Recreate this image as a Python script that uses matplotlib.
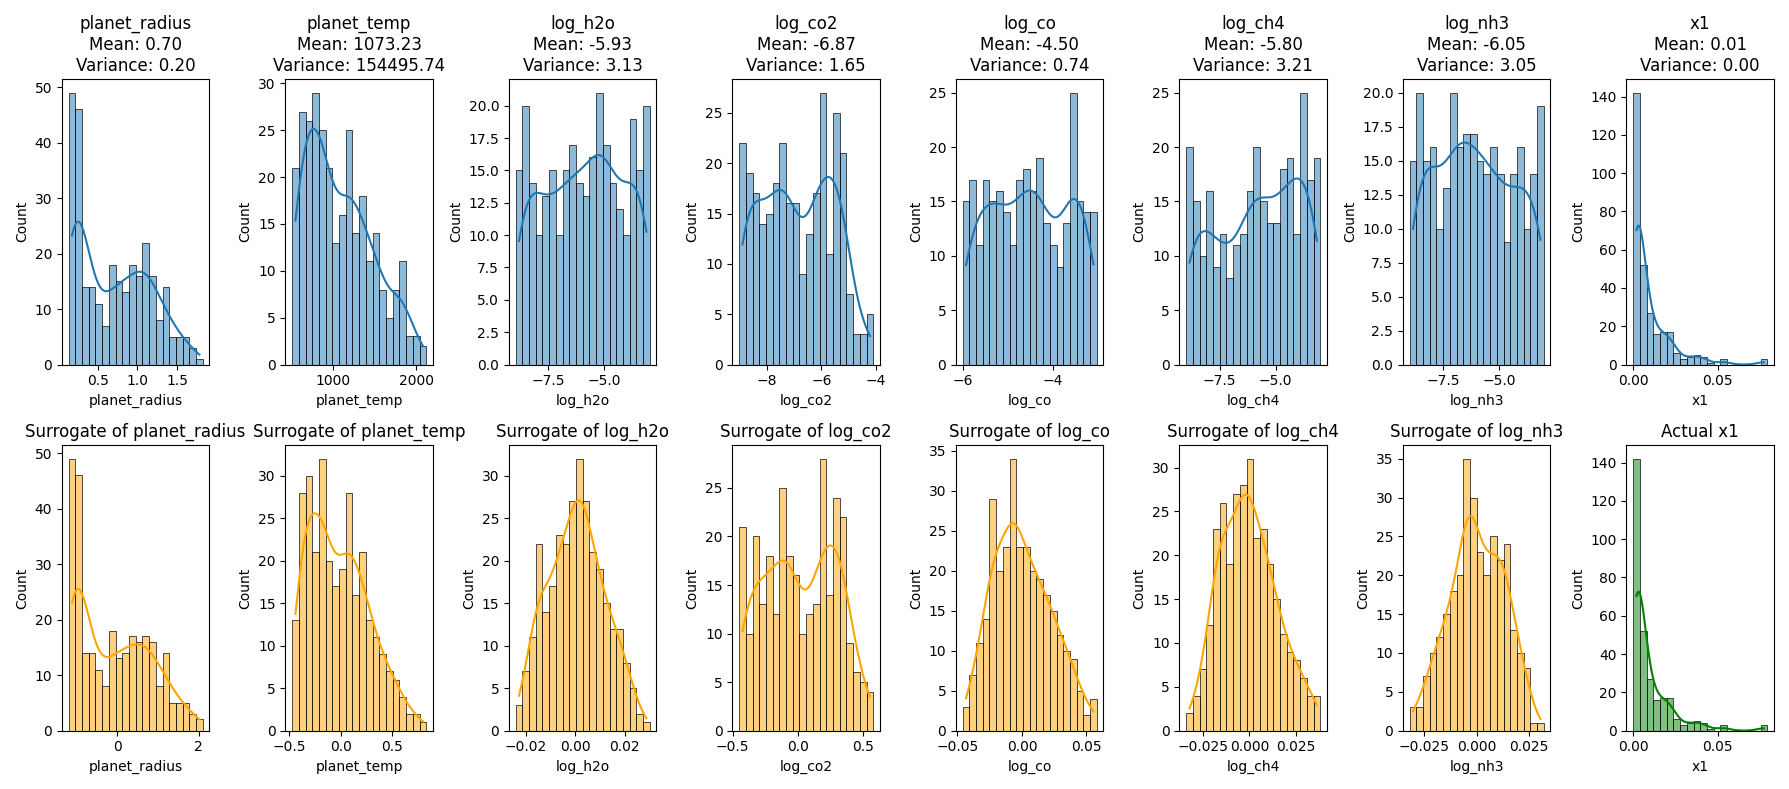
import matplotlib
matplotlib.use("Agg")
import matplotlib.pyplot as plt
import numpy as np
import pandas as pd
import seaborn as sns

# ---- data (20 bins per panel, 300 samples) ----
features = ["planet_radius", "planet_temp", "log_h2o", "log_co2",
            "log_co", "log_ch4", "log_nh3", "x1"]
means = [0.70, 1073.23, -5.93, -6.87, -4.50, -5.80, -6.05, 0.01]
variances = [0.20, 154495.74, 3.13, 1.65, 0.74, 3.21, 3.05, 0.00]

# bin ranges (min, max) of the original data
top_ranges = [(0.133, 1.825), (514, 2118), (-8.97, -2.97), (-9.02, -4.1),
              (-6.0, -3.03), (-9.0, -3.0), (-9.0, -3.0), (0.0, 0.0794)]

top_counts = [
    [49, 46, 14, 14, 11, 7, 18, 15, 13, 18, 16, 22, 16, 8, 14, 5, 5, 5, 3, 1],
    [21, 27, 26, 29, 25, 21, 13, 16, 25, 14, 18, 11, 14, 8, 5, 8, 11, 3, 3, 2],
    [15, 20, 14, 10, 13, 15, 10, 15, 17, 14, 13, 16, 21, 17, 14, 12, 10, 19, 15, 20],
    [22, 19, 17, 14, 15, 18, 22, 16, 16, 9, 13, 17, 27, 11, 25, 21, 7, 3, 3, 5],
    [15, 17, 11, 17, 15, 16, 14, 11, 17, 18, 16, 19, 13, 11, 9, 13, 25, 15, 14, 14],
    [20, 15, 10, 16, 9, 12, 8, 11, 12, 16, 20, 15, 13, 13, 18, 19, 12, 25, 17, 19],
    [15, 20, 15, 16, 10, 13, 20, 16, 17, 17, 15, 14, 16, 14, 9, 14, 16, 10, 14, 19],
    [142, 52, 27, 16, 17, 17, 6, 3, 4, 5, 4, 1, 0, 3, 0, 0, 0, 0, 0, 3],
]

bottom_titles = ["Surrogate of planet_radius", "Surrogate of planet_temp",
                 "Surrogate of log_h2o", "Surrogate of log_co2",
                 "Surrogate of log_co", "Surrogate of log_ch4",
                 "Surrogate of log_nh3", "Actual x1"]

bottom_ranges = [(-1.2, 2.1), (-0.47, 0.83), (-0.024, 0.030), (-0.45, 0.58),
                 (-0.046, 0.058), (-0.034, 0.038), (-0.032, 0.032), (0.0, 0.0794)]

bottom_counts = [
    [49, 46, 14, 14, 11, 8, 18, 13, 14, 17, 16, 17, 16, 8, 14, 5, 5, 5, 3, 2],
    [13, 28, 30, 21, 32, 20, 17, 19, 28, 16, 21, 13, 11, 9, 7, 6, 4, 2, 2, 1],
    [3, 7, 11, 22, 14, 17, 23, 22, 27, 32, 27, 21, 19, 15, 12, 12, 8, 5, 2, 1],
    [21, 10, 20, 13, 18, 12, 25, 18, 16, 10, 12, 13, 28, 14, 24, 22, 9, 6, 5, 4],
    [3, 7, 11, 14, 29, 20, 23, 34, 23, 23, 20, 19, 17, 15, 12, 10, 9, 5, 2, 4],
    [2, 4, 7, 12, 23, 26, 19, 27, 28, 31, 22, 23, 19, 15, 11, 9, 8, 6, 4, 4],
    [3, 3, 7, 10, 12, 15, 18, 20, 35, 30, 23, 20, 25, 22, 24, 13, 10, 8, 1, 1],
    [142, 52, 27, 16, 17, 17, 6, 3, 4, 5, 4, 1, 0, 3, 0, 0, 0, 0, 0, 3],
]
bottom_colors = ["orange"] * 7 + ["green"]


def draw(ax, rng, counts, color, name):
    nb = len(counts)
    edges = np.linspace(rng[0], rng[1], nb + 1)
    centers = (edges[:-1] + edges[1:]) / 2
    # one value per counted sample, placed at its bin centre
    df = pd.DataFrame({name: np.repeat(centers, counts)})
    sns.histplot(data=df, x=name, bins=nb, binrange=rng,
                 kde=True, color=color, ax=ax)


fig, axes = plt.subplots(2, 8, figsize=(17.89, 7.89), dpi=100)

for i, name in enumerate(features):
    ax = axes[0, i]
    draw(ax, top_ranges[i], top_counts[i], "#1f77b4", name)
    ax.set_title(f"{name}\nMean: {means[i]:.2f}\nVariance: {variances[i]:.2f}")
    ax.set_xlabel(name)

    ax = axes[1, i]
    draw(ax, bottom_ranges[i], bottom_counts[i], bottom_colors[i], name)
    ax.set_title(bottom_titles[i])
    ax.set_xlabel(name)

plt.tight_layout()
plt.savefig("out.png", dpi=100)
